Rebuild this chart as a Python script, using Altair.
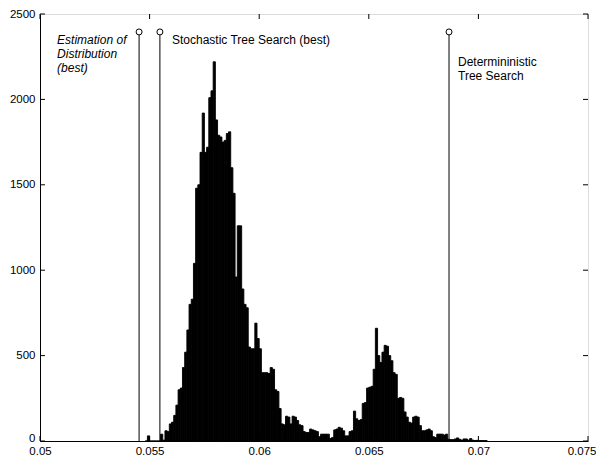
import altair as alt
import pandas as pd

# histogram: bin width 0.0001 starting at 0.0548
bin_first = 0.0548
bin_width = 0.0001
counts = [
    0, 30, 0, 0, 0, 0, 0, 40, 5, 60,
    55, 100, 110, 150, 210, 300, 310, 430, 520, 650,
    800, 830, 1040, 1480, 1500, 1690, 1920, 1690, 1720, 2010,
    2050, 2220, 1880, 1790, 1780, 1750, 1760, 1800, 1810, 1600,
    1450, 960, 1260, 1260, 890, 800, 780, 550, 540, 540,
    690, 600, 540, 400, 400, 400, 395, 430, 420, 300,
    290, 190, 100, 95, 145, 140, 100, 145, 140, 120,
    95, 90, 55, 50, 50, 70, 65, 60, 55, 25,
    40, 40, 40, 40, 15, 20, 65, 70, 80, 75,
    60, 30, 30, 55, 60, 175, 130, 120, 125, 220,
    225, 310, 315, 320, 420, 660, 500, 460, 520, 560,
    555, 500, 470, 400, 390, 250, 255, 250, 170, 140,
    110, 105, 140, 145, 140, 90, 60, 60, 65, 70,
    60, 25, 20, 40, 40, 40, 35, 40, 10, 8,
    8, 12, 18, 10, 5, 12, 12, 5, 14, 5,
    3, 4, 2, 3, 2, 2,
]
bin_start = [round(bin_first + i * bin_width, 5) for i in range(len(counts))]
bin_end = [round(s + bin_width, 5) for s in bin_start]

marker_x = [0.05452, 0.05547, 0.06866]
marker_top = [2395, 2395, 2395]

label_lines = ["Estimation of", "Distribution", "(best)",
               "Stochastic Tree Search (best)",
               "Determininistic", "Tree Search"]
label_x = [0.05078, 0.05078, 0.05078, 0.05602, 0.06907, 0.06907]
label_y = [2348, 2266, 2184, 2348, 2219, 2137]
label_italic = ["italic", "italic", "italic", "normal", "normal", "normal"]

x_ticks = [0.05, 0.055, 0.06, 0.065, 0.07, 0.075]
y_ticks = [0, 500, 1000, 1500, 2000, 2500]

W, H = 548, 427
FONT = "Liberation Sans"

hist = pd.DataFrame({"start": bin_start, "end": bin_end, "count": counts,
                     "zero": [0] * len(counts)})
markers = pd.DataFrame({"x": marker_x, "top": marker_top, "base": [0, 0, 0]})
labels = pd.DataFrame({"x": label_x, "y": label_y, "text": label_lines,
                       "style": label_italic})
xt = pd.DataFrame({"t": x_ticks})
yt = pd.DataFrame({"t": y_ticks})

xscale = alt.Scale(domain=[0.05, 0.075], nice=False, zero=False)
yscale = alt.Scale(domain=[0, 2500], nice=False)

last_test = "datum.value >= 0.0749"
xaxis = alt.Axis(values=x_ticks, format="~g", title=None, ticks=False,
                 grid=False, labelPadding=4, labelFlush=False,
                 labelFont=FONT, labelFontSize=11.5, labelColor="black",
                 domainColor="black",
                 labelAlign={"condition": {"test": last_test, "value": "right"},
                             "value": "center"},
                 labelOffset={"condition": {"test": last_test, "value": 8},
                              "value": 0})
yaxis = alt.Axis(values=y_ticks, format="d", title=None, ticks=False,
                 grid=False, labelPadding=5, labelFlush=False,
                 labelFont=FONT, labelFontSize=11.5, labelColor="black",
                 domainColor="black",
                 labelBaseline={"condition": {"test": "datum.value == 0",
                                              "value": "alphabetic"},
                                "value": "middle"})

bars = alt.Chart(hist).mark_bar(color="black", stroke="black",
                                strokeWidth=0.9).encode(
    x=alt.X("start:Q", scale=xscale, axis=xaxis),
    x2="end:Q",
    y=alt.Y("count:Q", scale=yscale, axis=yaxis),
    y2="zero:Q",
)

vlines = alt.Chart(markers).mark_rule(color="black", strokeWidth=1).encode(
    x=alt.X("x:Q", scale=xscale),
    y=alt.Y("base:Q", scale=yscale),
    y2="top:Q",
)

circles = alt.Chart(markers).mark_point(shape="circle", size=36, filled=False,
                                        color="black", strokeWidth=1,
                                        fill="white", fillOpacity=1).encode(
    x=alt.X("x:Q", scale=xscale),
    y=alt.Y("top:Q", scale=yscale),
)

texts_it = alt.Chart(labels[labels["style"] == "italic"]).mark_text(
    align="left", baseline="middle", font=FONT, fontSize=12,
    fontStyle="italic", color="black").encode(
    x=alt.X("x:Q", scale=xscale),
    y=alt.Y("y:Q", scale=yscale),
    text="text:N",
)
texts_up = alt.Chart(labels[labels["style"] == "normal"]).mark_text(
    align="left", baseline="middle", font=FONT, fontSize=12,
    color="black").encode(
    x=alt.X("x:Q", scale=xscale),
    y=alt.Y("y:Q", scale=yscale),
    text="text:N",
)

tick_bottom = alt.Chart(xt).mark_rule(color="black").encode(
    x=alt.X("t:Q", scale=xscale), y=alt.value(H), y2=alt.value(H - 5))
tick_top = alt.Chart(xt).mark_rule(color="black").encode(
    x=alt.X("t:Q", scale=xscale), y=alt.value(0), y2=alt.value(5))
tick_left = alt.Chart(yt).mark_rule(color="black").encode(
    y=alt.Y("t:Q", scale=yscale), x=alt.value(0), x2=alt.value(5))
tick_right = alt.Chart(yt).mark_rule(color="black").encode(
    y=alt.Y("t:Q", scale=yscale), x=alt.value(W), x2=alt.value(W - 5))

chart = alt.layer(
    bars, vlines, circles, texts_it, texts_up,
    tick_bottom, tick_top, tick_left, tick_right,
).properties(
    width=W, height=H,
    autosize=alt.AutoSizeParams(type="none"),
    padding={"left": 32, "top": 6, "right": 8, "bottom": 15},
).configure_view(
    stroke="black", strokeWidth=1,
).configure(background="white")

chart.save("out.html", embed_options={"renderer": "svg", "actions": False})
